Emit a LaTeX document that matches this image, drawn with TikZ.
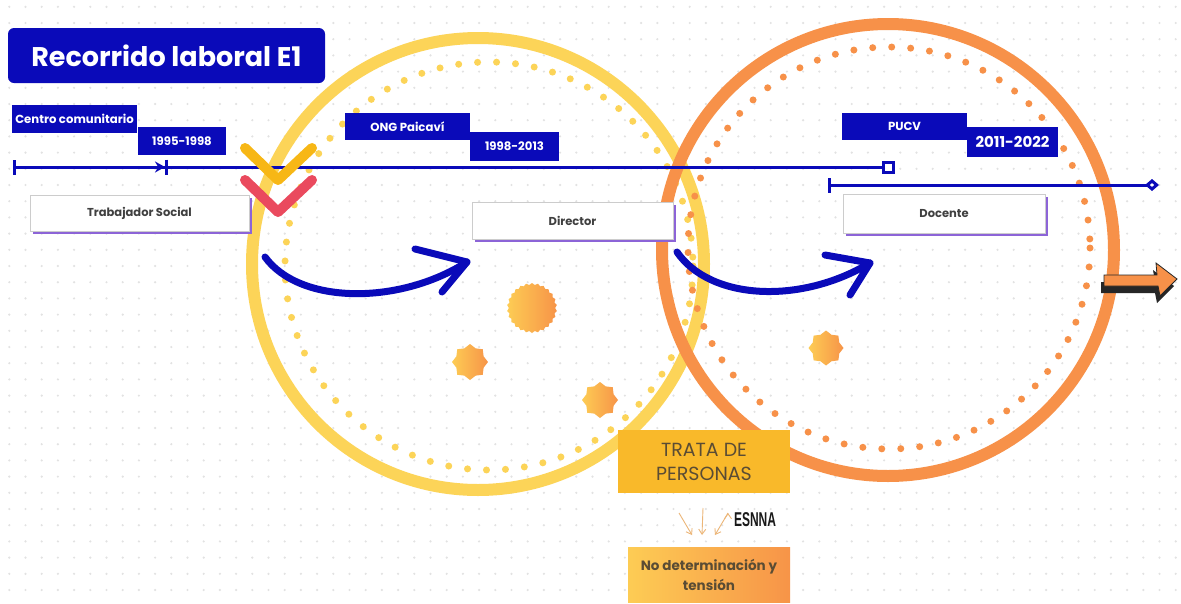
\documentclass[tikz,border=0pt]{standalone}
\usepackage{fontspec}
\setmainfont{Poppins}
\newfontfamily\narrowfont{Liberation Sans}
\usetikzlibrary{arrows.meta,shapes.geometric,shadows,positioning}
\definecolor{tlblue}{RGB}{10,10,185}
\definecolor{ringyellow}{RGB}{252,212,88}
\definecolor{ringorange}{RGB}{247,145,73}
\definecolor{chevyellow}{RGB}{247,183,22}
\definecolor{chevred}{RGB}{234,74,94}
\definecolor{shadowpurple}{RGB}{140,100,215}
\definecolor{sunleft}{RGB}{253,204,84}
\definecolor{sunright}{RGB}{247,148,72}
\definecolor{tratafill}{RGB}{249,185,42}
\definecolor{browntext}{RGB}{90,76,52}
\definecolor{dotgray}{RGB}{226,226,226}
\definecolor{thinarrow}{RGB}{236,182,120}

\begin{document}
\begin{tikzpicture}[x=1pt,y=-1pt]
                \tikzstyle{title} = [fill=tlblue, text=white, rounded corners=6pt, minimum width=317pt, minimum height=55pt, font=\bfseries\fontsize{27}{30}\selectfont];
                \tikzstyle{tag} = [fill=tlblue, text=white, inner sep=0pt, minimum height=28pt, font=\bfseries\fontsize{11.7}{13}\selectfont];
                \tikzstyle{role} = [fill=white, draw=black!20, inner sep=0pt, minimum height=37pt, text=black!75, font=\bfseries\fontsize{11.5}{13}\selectfont, drop shadow={shadow xshift=2.5pt, shadow yshift=-2.5pt, fill=shadowpurple, opacity=1}];
                \tikzstyle{tline} = [draw=tlblue, line width=3pt];
                \tikzstyle{chev} = [line width=10pt, line cap=round, line join=round];
                \tikzstyle{swoosh} = [draw=tlblue, line width=7pt, line cap=round, line join=round];
                \tikzstyle{sun} = [star, inner sep=0pt, left color=sunleft, right color=sunright, draw=none];
                \tikzstyle{ring} = [line width=12pt];
                \tikzstyle{ringdots} = [line width=7pt, line cap=round, dash pattern=on 0pt off 19pt];

                \useasboundingbox (0,0) rectangle (1181,603);
                \fill[white] (0,0) rectangle (1181,603);
                \foreach \i in {0,...,72}
                    \foreach \j in {0,...,36}
                        \fill[dotgray] (9.3+16.2*\i, 6.8+16.2*\j) circle (1.2);

                \draw[ring, draw=ringyellow] (478,264) circle [radius=226];
                \draw[ringdots, draw=ringyellow] (489,266) circle [radius=204];
                \draw[ring, draw=ringorange] (888,250) circle [radius=226];
                \draw[ringdots, draw=ringorange] (889,248) circle [radius=201];

                \node[title](Title) at (166.5,55.5) {Recorrido laboral E1};

                \node[tag, minimum width=125pt](CC) at (74.5,119) {Centro comunitario};
                \node[tag, minimum width=88pt](CCY) at (182,141) {1995-1998};
                \node[tag, minimum width=125pt, minimum height=27pt](ONG) at (407.5,126.5) {ONG Paicaví};
                \node[tag, minimum width=89pt, minimum height=29pt](ONGY) at (514.5,146.5) {1998-2013};
                \node[tag, minimum width=125pt, minimum height=27pt](PUCV) at (904.5,126.5) {PUCV};
                \node[tag, minimum width=91pt, minimum height=30pt, font=\bfseries\fontsize{15}{17}\selectfont](PUCVY) at (1012.5,142) {2011-2022};

                \coordinate (T0) at (13,167);
                \coordinate (T1) at (168,167);
                \coordinate (T2) at (895,167);
                \coordinate (U0) at (828,185);
                \coordinate (U1) at (1159,185);
                \draw[tline, {Bar[width=15pt]}-{Stealth[length=10pt,width=11pt]Bar[width=15pt]}] (T0) -- (T1);
                \draw[tline, -{Square[open,length=13pt,width=13pt]}] (T1) -- (T2);
                \draw[tline, {Bar[width=15pt]}-{Diamond[open,length=14pt,width=12pt]}] (U0) -- (U1);

                \node[role, minimum width=219pt, minimum height=36pt](TS) at (139.5,213) {Trabajador Social};
                \node[role, minimum width=201pt](DIR) at (572.5,220.5) {Director};
                \node[role, minimum width=202pt, minimum height=39pt](DOC) at (944,213.5) {Docente};

                \draw[chev, draw=chevyellow] (245,148) -- (278,180) -- (312,148);
                \draw[chev, draw=chevred] (245,180) -- (278,212) -- (312,180);

                \coordinate (A1S) at (265,257);
                \coordinate (A1E) at (467,262);
                \coordinate (A1U) at (415,249);
                \coordinate (A1L) at (442,292);
                \draw[swoosh] (A1S) .. controls (300,305) and (400,305) .. (A1E);
                \draw[swoosh] (A1U) -- (A1E) -- (A1L);
                \coordinate (A2S) at (677,252);
                \coordinate (A2E) at (870,263);
                \coordinate (A2U) at (825,255);
                \coordinate (A2L) at (850,295);
                \draw[swoosh] (A2S) .. controls (710,300) and (800,305) .. (A2E);
                \draw[swoosh] (A2U) -- (A2E) -- (A2L);

                \node[sun, star points=26, star point ratio=1.08, minimum size=50pt](S0) at (532,308) {};
                \node[sun, star points=8, star point ratio=1.22, minimum size=36pt](S1) at (470,362) {};
                \node[sun, star points=8, star point ratio=1.22, minimum size=36pt](S2) at (600,400) {};
                \node[sun, star points=8, star point ratio=1.22, minimum size=35pt](S3) at (826,348) {};

                \fill[black!85] (1101,282) -- (1155,282) -- (1153,270) -- (1174,286) -- (1157,303) -- (1155,293) -- (1101,293) -- cycle;
                \draw[fill=ringorange, draw=black!85, line width=0.8pt] (1104,275) -- (1157,275) -- (1156,263) -- (1177,279) -- (1160,296) -- (1158,286) -- (1104,286) -- cycle;

                \node[fill=tratafill, minimum width=172pt, minimum height=63pt, align=center, text=browntext, font=\fontsize{19}{24}\selectfont](TRATA) at (704,461.5) {TRATA DE\\PERSONAS};

                \coordinate (E1) at (679,513);
                \coordinate (E2) at (703,508);
                \coordinate (E3) at (728,513);
                \coordinate (F1) at (692,535);
                \coordinate (F2) at (702,535);
                \coordinate (F3) at (715,535);
                \draw[-{Straight Barb[length=5pt,width=7pt]}, draw=thinarrow, line width=0.9pt]
                    (E1) edge (F1)
                    (E2) edge (F2)
                    (E3) edge (F3)
                ;
                \node[xscale=0.6, font=\narrowfont\bfseries\fontsize{20}{22}\selectfont, text=black!90](ESNNA) at (755,520) {ESNNA};

                \node[left color=sunleft, right color=sunright, minimum width=162pt, minimum height=55pt, align=center, text=browntext, font=\bfseries\fontsize{13.5}{20}\selectfont](NODET) at (709,575) {No determinación y\\tensión};
            \end{tikzpicture}
\end{document}
